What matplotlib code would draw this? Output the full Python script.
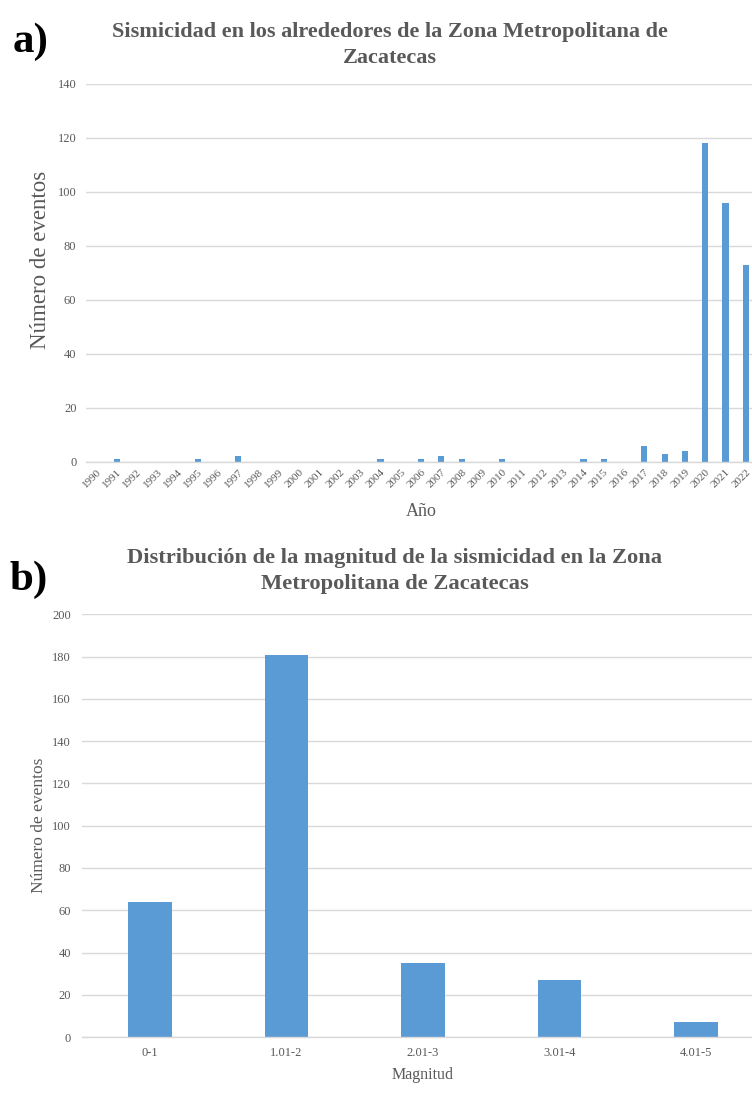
import matplotlib
matplotlib.use('Agg')
import matplotlib.pyplot as plt

plt.rcParams['font.family'] = ['Liberation Serif', 'DejaVu Serif']

# panel a: events per year
years = [str(y) for y in range(1990, 2023)]
events_year = [0, 1, 0, 0, 0, 1, 0, 2, 0, 0, 0, 0, 0, 0, 1, 0, 1, 2, 1, 0,
               1, 0, 0, 0, 1, 1, 0, 6, 3, 4, 118, 96, 73]

# panel b: events per magnitude range
mag_bins = ['0-1', '1.01-2', '2.01-3', '3.01-4', '4.01-5']
events_mag = [64, 181, 35, 27, 7]

BAR = '#5b9bd5'
GRID = '#d9d9d9'
TXT = '#595959'

fig = plt.figure(figsize=(7.52, 10.96), dpi=100)


def style(ax):
    for s in ['top', 'right', 'left']:
        ax.spines[s].set_visible(False)
    ax.spines['bottom'].set_color(GRID)
    ax.spines['bottom'].set_linewidth(1.0)
    ax.yaxis.grid(True, color=GRID, linewidth=1.0)
    ax.set_axisbelow(True)
    ax.tick_params(length=0, colors=TXT)


# ---- a) ----
ax1 = fig.add_axes([0.1146, 0.5787, 0.8907, 0.3447])
ax1.bar(range(len(years)), events_year, width=0.3, color=BAR)
ax1.set_xlim(-0.5, len(years) - 0.5)
ax1.set_ylim(0, 140)
ax1.set_yticks(range(0, 141, 20))
ax1.set_xticks(range(len(years)))
ax1.set_xticklabels(years, rotation=45, ha='right', va='top',
                    rotation_mode='anchor', fontsize=8)
ax1.tick_params(axis='x', pad=4)
ax1.tick_params(axis='y', labelsize=9, pad=7)
style(ax1)
ax1.set_ylabel('Número de eventos', fontsize=16.5, color=TXT)
ax1.yaxis.set_label_coords(-0.052, 0.535)
ax1.set_xlabel('Año', fontsize=13, color=TXT, labelpad=10)

fig.text(0.519, 0.959, 'Sismicidad en los alrededores de la Zona Metropolitana de\nZacatecas',
         ha='center', va='center', fontsize=16, fontweight='bold', color=TXT,
         linespacing=1.35)
fig.text(0.017, 0.9617, 'a)', ha='left', va='center', fontsize=31,
         fontweight='bold', color='black')

# ---- b) ----
ax2 = fig.add_axes([0.109, 0.0538, 0.907, 0.3856])
ax2.bar(range(len(mag_bins)), events_mag, width=0.32, color=BAR)
ax2.set_xlim(-0.5, len(mag_bins) - 0.5)
ax2.set_ylim(0, 200)
ax2.set_yticks(range(0, 201, 20))
ax2.set_xticks(range(len(mag_bins)))
ax2.set_xticklabels(mag_bins, fontsize=9)
ax2.tick_params(axis='x', pad=7)
ax2.tick_params(axis='y', labelsize=9, pad=8)
style(ax2)
ax2.set_ylabel('Número de eventos', fontsize=12.5, color=TXT)
ax2.yaxis.set_label_coords(-0.051, 0.5)
ax2.set_xlabel('Magnitud', fontsize=11.5, color=TXT, labelpad=6)

fig.text(0.525, 0.479, 'Distribución de la magnitud de la sismicidad en la Zona\nMetropolitana de Zacatecas',
         ha='center', va='center', fontsize=16.2, fontweight='bold', color=TXT,
         linespacing=1.45)
fig.text(0.013, 0.4708, 'b)', ha='left', va='center', fontsize=31,
         fontweight='bold', color='black')

fig.savefig('out.png', dpi=100)
